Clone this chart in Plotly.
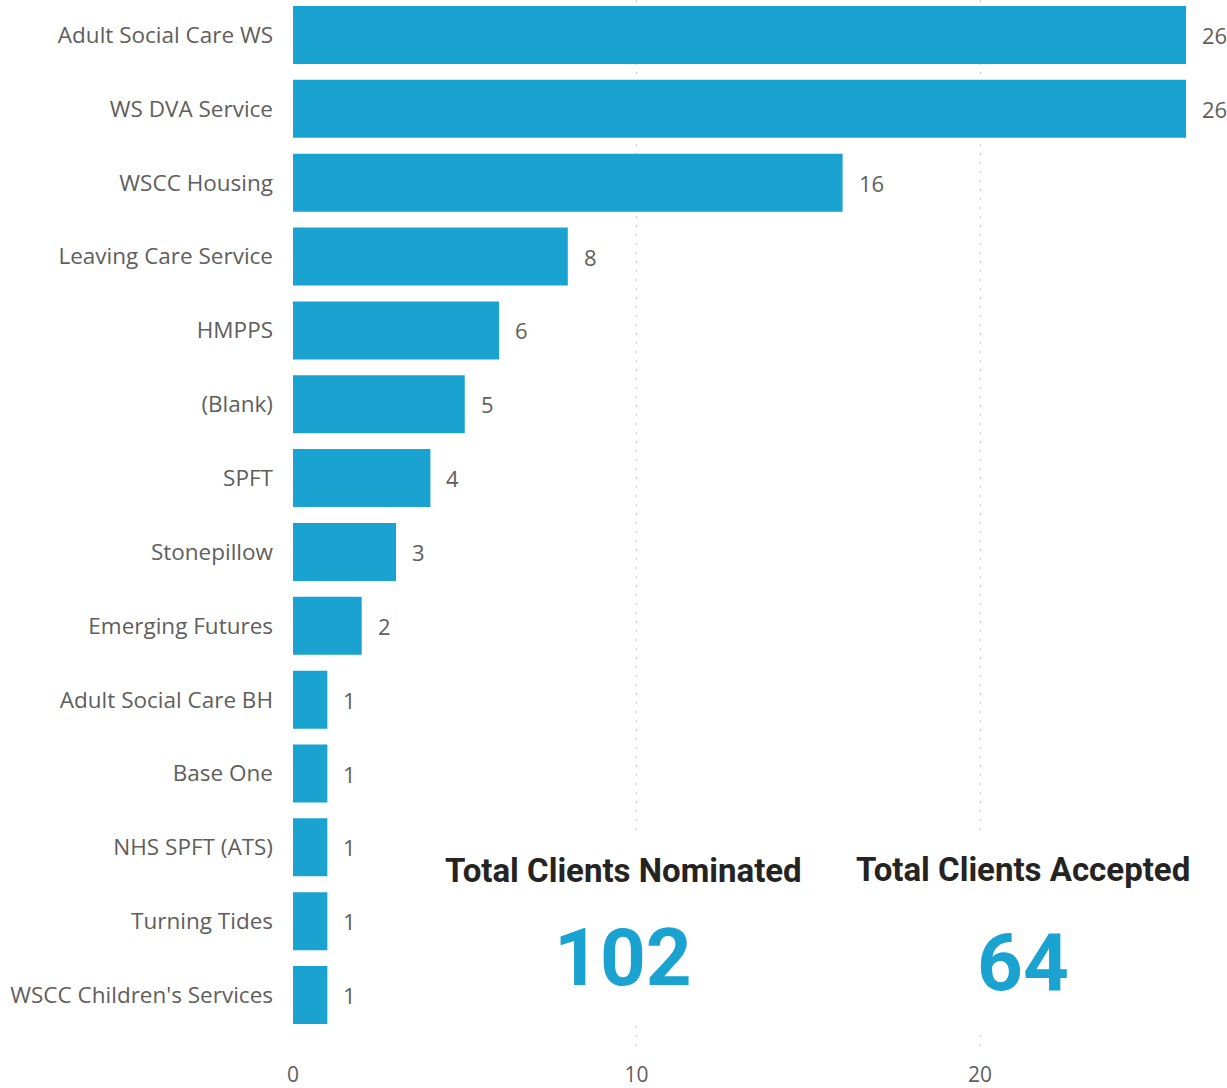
import plotly.graph_objects as go

categories = ["Adult Social Care WS", "WS DVA Service", "WSCC Housing", "Leaving Care Service",
              "HMPPS", "(Blank)", "SPFT", "Stonepillow", "Emerging Futures", "Adult Social Care BH",
              "Base One", "NHS SPFT (ATS)", "Turning Tides", "WSCC Children's Services"]
values = [26, 26, 16, 8, 6, 5, 4, 3, 2, 1, 1, 1, 1, 1]
x_ticks = [0, 10, 20]
kpi_titles = ["Total Clients Nominated", "Total Clients Accepted"]
kpi_values = [102, 64]

BAR = "#1aa3d1"
GREY = "#605e5c"
W, H = 1227, 1088
ML, MR, MT, MB = 293, 0, 0, 36
PW, PH = W - ML - MR, H - MT - MB
STEP = 73.85
UNIT = 34.35


def px(x):
    return (x - ML) / PW


def py(y):
    return 1 - (y - MT) / PH


fig = go.Figure()
fig.add_trace(go.Bar(
    x=values, y=categories, orientation="h",
    marker=dict(color=BAR, line=dict(width=0)),
    hoverinfo="skip",
))

for c, v in zip(categories, values):
    fig.add_annotation(x=v, y=c, xref="x", yref="y", text=str(v), showarrow=False,
                       xanchor="left", xshift=14,
                       font=dict(family="Open Sans", size=22, color=GREY))

# white card backgrounds
fig.add_shape(type="rect", xref="paper", yref="paper", layer="above",
              x0=px(430), x1=px(815), y0=py(1020), y1=py(835),
              fillcolor="white", line=dict(width=0))
fig.add_shape(type="rect", xref="paper", yref="paper", layer="above",
              x0=px(845), x1=px(1200), y0=py(1030), y1=py(835),
              fillcolor="white", line=dict(width=0))

centers = [623, 1023]
title_y = [871, 869]
num_y = [958, 963]
for t, v, cx, ty, ny in zip(kpi_titles, kpi_values, centers, title_y, num_y):
    fig.add_annotation(x=px(cx), y=py(ty), xref="paper", yref="paper", text="<b>%s</b>" % t,
                       showarrow=False, xanchor="center", yanchor="middle",
                       font=dict(family="Roboto", size=33, color="#252423"))
    fig.add_annotation(x=px(cx), y=py(ny), xref="paper", yref="paper", text="<b>%d</b>" % v,
                       showarrow=False, xanchor="center", yanchor="middle",
                       font=dict(family="Roboto", size=80, color=BAR))

top_pad = 35 / STEP
bot_pad = (PH - 35) / STEP
fig.update_layout(
    width=W, height=H,
    margin=dict(l=ML, r=MR, t=MT, b=MB, autoexpand=False),
    paper_bgcolor="white", plot_bgcolor="white",
    bargap=0.215,
    showlegend=False,
    xaxis=dict(range=[0, PW / UNIT], tickvals=x_ticks, showgrid=True, gridcolor="#c8c8c8",
               griddash="2px,7px", gridwidth=1, zeroline=False, showline=False, automargin=False,
               ticklabelstandoff=8,
               tickfont=dict(family="Open Sans", size=21, color=GREY), ticks=""),
    yaxis=dict(type="category", range=[bot_pad, -top_pad], automargin=False,
               showgrid=False, zeroline=False, showline=False, ticks="",
               ticklabelstandoff=19,
               tickfont=dict(family="Open Sans", size=22.5, color=GREY)),
)
fig.write_html("out.html", config={"displayModeBar": False},
               post_script="document.body.style.margin='0';document.body.style.overflow='hidden';")
